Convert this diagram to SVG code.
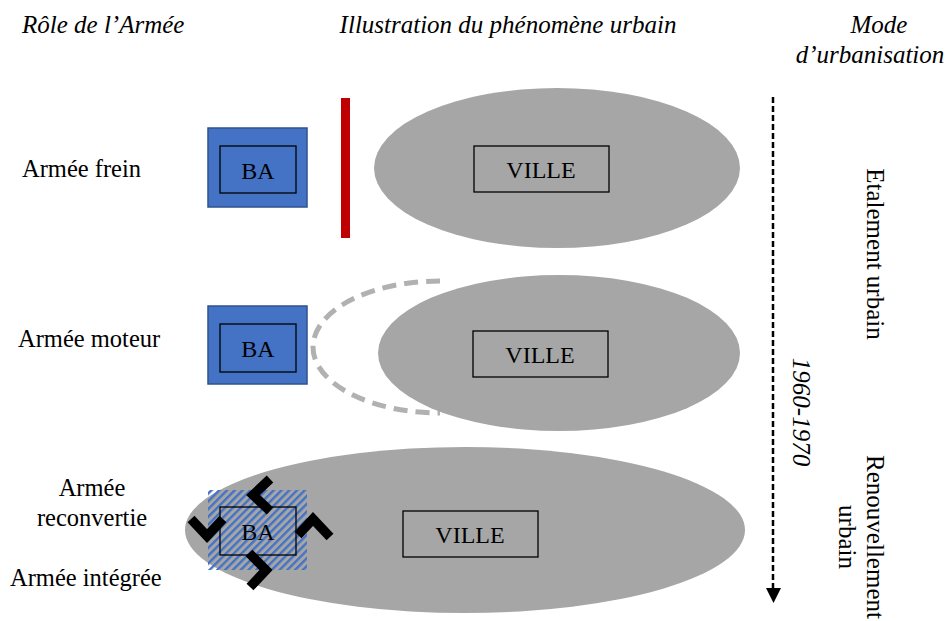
<svg xmlns="http://www.w3.org/2000/svg" width="947" height="621" viewBox="0 0 947 621">
  <style>
    .head { font-family: "Liberation Serif", serif; font-style: italic; font-size: 25px; fill: #000; }
    .lbl { font-family: "Liberation Serif", serif; font-size: 24.5px; fill: #000; }
    .ba { font-family: "Liberation Serif", serif; font-size: 24px; fill: #000; text-anchor: middle; }
    .ville { font-family: "Liberation Serif", serif; font-size: 24px; fill: #000; text-anchor: middle; }
    .city { fill: #a6a6a6; }
    .base { fill: #4472c4; stroke: #2f528f; stroke-width: 1.5; }
    .box { fill: none; stroke: #000; stroke-width: 1.3; }
    .chev { fill: none; stroke: #000; stroke-width: 9.5; stroke-linejoin: miter; }
    .mode { font-family: "Liberation Serif", serif; font-size: 25px; fill: #000; text-anchor: middle; }
  </style>
  <defs>
    <pattern id="hatch" patternUnits="userSpaceOnUse" width="5.5" height="5.5" patternTransform="rotate(45)">
      <rect width="2.4" height="5.5" fill="#4472c4"/>
    </pattern>
  </defs>

  <!-- column headings -->
  <text class="head" x="22" y="33">Rôle de l’Armée</text>
  <text class="head" x="508" y="33" text-anchor="middle">Illustration du phénomène urbain</text>
  <text class="head" x="879" y="33" text-anchor="middle">Mode</text>
  <text class="head" x="870" y="63" text-anchor="middle">d’urbanisation</text>

  <!-- row 1: army as brake -->
  <g id="row-frein">
    <text class="lbl" x="22" y="177">Armée frein</text>
    <rect class="base" x="208" y="128" width="99" height="79"/>
    <rect class="box" x="220" y="146" width="76" height="47"/>
    <text class="ba" x="258" y="179">BA</text>
    <rect x="341" y="98" width="9" height="140" fill="#c00000"/>
    <ellipse class="city" cx="557" cy="168" rx="183" ry="80"/>
    <rect class="box" x="474" y="146" width="135" height="46"/>
    <text class="ville" x="541" y="178">VILLE</text>
  </g>

  <!-- row 2: army as driver -->
  <g id="row-moteur">
    <text class="lbl" x="18" y="347">Armée moteur</text>
    <rect class="base" x="208" y="306" width="99" height="78"/>
    <rect class="box" x="220" y="324" width="76" height="48"/>
    <text class="ba" x="258" y="357">BA</text>
    <path d="M 440 281 A 127 66 0 0 0 440 413" fill="none" stroke="#b3b0b0" stroke-width="5" stroke-dasharray="14 8"/>
    <ellipse class="city" cx="559" cy="353" rx="181" ry="78"/>
    <rect class="box" x="473" y="331" width="135" height="46"/>
    <text class="ville" x="540" y="363">VILLE</text>
  </g>

  <!-- row 3: converted / integrated army -->
  <g id="row-integree">
    <text class="lbl" x="92" y="496" text-anchor="middle">Armée</text>
    <text class="lbl" x="92" y="526" text-anchor="middle">reconvertie</text>
    <text class="lbl" x="10" y="586">Armée intégrée</text>
    <ellipse class="city" cx="465" cy="530" rx="280" ry="83"/>
    <rect x="208" y="490" width="99" height="80" fill="url(#hatch)"/>
    <rect class="box" x="220" y="507" width="76" height="48"/>
    <text class="ba" x="258" y="540">BA</text>
    <polyline class="chev" points="270,479 253,495 270,511"/>
    <polyline class="chev" points="191,519 207,536 223,519"/>
    <polyline class="chev" points="298,535 313,519 330,537"/>
    <polyline class="chev" points="249,553 266,570 250,587"/>
    <rect class="box" x="403" y="511" width="135" height="46"/>
    <text class="ville" x="470" y="543">VILLE</text>
  </g>

  <!-- time axis -->
  <g id="connectors">
    <line x1="773" y1="97" x2="773" y2="589" stroke="#000" stroke-width="2.5" stroke-dasharray="6 3"/>
    <path d="M 766 588 L 781 588 L 773.5 603 Z" fill="#000"/>
  </g>

  <!-- urbanisation modes -->
  <g id="modes">
    <text class="mode" transform="translate(867 254) rotate(90)">Etalement urbain</text>
    <text class="head" font-size="16.5" transform="translate(793 412) rotate(90)" text-anchor="middle">1960-1970</text>
    <text class="mode" transform="translate(867 537) rotate(90)">Renouvellement</text>
    <text class="mode" transform="translate(839 537) rotate(90)">urbain</text>
  </g>
</svg>
